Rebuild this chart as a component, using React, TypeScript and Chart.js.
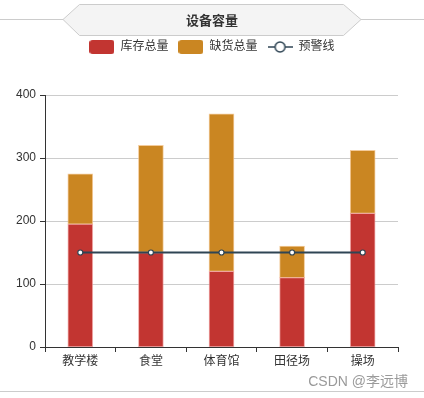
import React, { useEffect, useRef } from "react";
import { Chart, registerables } from "chart.js";

Chart.register(...registerables);

const categories = ["教学楼", "食堂", "体育馆", "田径场", "操场"];
const stockValues = [195, 150, 120, 110, 212];
const shortageValues = [80, 170, 250, 50, 100];
const warningValues = [150, 150, 150, 150, 150];
const yTicks = [0, 100, 200, 300, 400];

const FONT = "'Liberation Sans', 'Noto Sans CJK SC', sans-serif";
const RED = "#c23531";
const ORANGE = "#ca8622";
const LINE = "#2f4554";

function boxIcon(color: string) {
  const c = document.createElement("canvas");
  c.width = 25;
  c.height = 14;
  const ctx = c.getContext("2d")!;
  ctx.fillStyle = color;
  ctx.beginPath();
  (ctx as any).roundRect(0, 0, 25, 14, 3);
  ctx.fill();
  return c;
}

function lineIcon(color: string) {
  const c = document.createElement("canvas");
  c.width = 25;
  c.height = 14;
  const ctx = c.getContext("2d")!;
  ctx.strokeStyle = color;
  ctx.lineWidth = 1.5;
  ctx.beginPath();
  ctx.moveTo(0, 7);
  ctx.lineTo(25, 7);
  ctx.stroke();
  ctx.beginPath();
  ctx.arc(12.5, 7, 5, 0, Math.PI * 2);
  ctx.fillStyle = "#fff";
  ctx.fill();
  ctx.stroke();
  return c;
}

const decorPlugin = {
  id: "decor",
  beforeDraw(chart: any) {
    const ctx = chart.ctx;
    const w = chart.width;
    ctx.save();
    ctx.strokeStyle = "#ccc";
    ctx.lineWidth = 1;
    ctx.beginPath();
    ctx.moveTo(0, 19.5);
    ctx.lineTo(63, 19.5);
    ctx.moveTo(361, 19.5);
    ctx.lineTo(w, 19.5);
    ctx.stroke();
    ctx.beginPath();
    ctx.moveTo(63, 19.5);
    ctx.lineTo(79.5, 4.5);
    ctx.lineTo(343.5, 4.5);
    ctx.lineTo(361, 19.5);
    ctx.lineTo(343.5, 35.5);
    ctx.lineTo(79.5, 35.5);
    ctx.closePath();
    ctx.fillStyle = "#f4f4f4";
    ctx.fill();
    ctx.stroke();
    ctx.restore();
  },
  afterDraw(chart: any) {
    const ctx = chart.ctx;
    ctx.save();
    ctx.strokeStyle = "#ccc";
    ctx.lineWidth = 1;
    ctx.beginPath();
    ctx.moveTo(0, 391.5);
    ctx.lineTo(chart.width, 391.5);
    ctx.stroke();
    ctx.fillStyle = "#9a9a9a";
    ctx.font = `14px ${FONT}`;
    ctx.textAlign = "right";
    ctx.textBaseline = "middle";
    ctx.fillText("CSDN @李远博", 408, 382);
    ctx.restore();
  },
};

export default function App() {
  const ref = useRef<HTMLCanvasElement>(null);
  useEffect(() => {
    const icons = [boxIcon(RED), boxIcon(ORANGE), lineIcon(LINE)];
    const chart = new Chart(ref.current!, {
      type: "bar",
      data: {
        labels: categories,
        datasets: [
          {
            type: "bar",
            label: "库存总量",
            data: stockValues,
            backgroundColor: RED,
            borderColor: "rgba(235,140,140,0.7)",
            borderWidth: 1,
            borderSkipped: false,
            stack: "total",
            order: 1,
            barThickness: 25,
          },
          {
            type: "bar",
            label: "缺货总量",
            data: shortageValues,
            backgroundColor: ORANGE,
            borderColor: "rgba(240,190,130,0.8)",
            borderWidth: 1,
            borderSkipped: false,
            stack: "total",
            order: 1,
            barThickness: 25,
          },
          {
            type: "line",
            label: "预警线",
            data: warningValues,
            borderColor: LINE,
            backgroundColor: "#fff",
            borderWidth: 2,
            pointStyle: "circle",
            pointRadius: 2.5,
            pointBorderWidth: 1.2,
            pointBorderColor: LINE,
            pointBackgroundColor: "#fff",
            stack: "line",
            order: 0,
          } as any,
        ],
      },
      options: {
        responsive: false,
        animation: false,
        layout: { padding: 0 },
        plugins: {
          tooltip: { enabled: false },
          title: {
            display: true,
            text: "设备容量",
            color: "#333",
            font: { family: FONT, size: 13, weight: "bold" },
            padding: { top: 14, bottom: 1.4 },
          },
          legend: {
            display: true,
            labels: {
              usePointStyle: true,
              pointStyleWidth: 25,
              padding: 10,
              color: "#333",
              font: { family: FONT, size: 12 },
              generateLabels: (chart: any) =>
                chart.data.datasets.map((ds: any, i: number) => ({
                  text: ds.label,
                  pointStyle: icons[i],
                  datasetIndex: i,
                  fontColor: "#333",
                  lineWidth: 0,
                  hidden: false,
                })),
              sort: (a: any, b: any) => a.datasetIndex - b.datasetIndex,
            },
          },
        },
        scales: {
          xTop: {
            type: "category",
            labels: categories,
            position: "top",
            display: true,
            grid: { display: false },
            border: { display: false },
            ticks: { display: false },
            afterFit: (s: any) => {
              s.height = 32;
            },
          },
          yRight: {
            type: "linear",
            position: "right",
            display: true,
            grid: { display: false },
            border: { display: false },
            ticks: { display: false },
            afterFit: (s: any) => {
              s.width = 26;
            },
          },
          x: {
            stacked: true,
            grid: {
              display: true,
              drawOnChartArea: false,
              drawTicks: true,
              tickLength: 5,
              offset: true,
              tickColor: "#333",
            },
            border: { display: true, color: "#333" },
            ticks: {
              color: "#333",
              padding: 2,
              font: { family: FONT, size: 12 },
              maxRotation: 0,
            },
            afterFit: (s: any) => {
              s.height = 51;
            },
          },
          y: {
            stacked: true,
            min: yTicks[0],
            max: yTicks[yTicks.length - 1],
            afterBuildTicks: (s: any) => {
              s.ticks = yTicks.map((v) => ({ value: v }));
            },
            grid: {
              color: "#ccc",
              tickColor: "#333",
              tickLength: 5,
            },
            border: { display: true, color: "#333" },
            ticks: {
              color: "#333",
              padding: 4,
              font: { family: FONT, size: 12 },
            },
            afterFit: (s: any) => {
              s.width = 45;
            },
          },
        },
      },
      plugins: [decorPlugin],
    } as any);
    return () => chart.destroy();
  }, []);
  return (
    <canvas
      ref={ref}
      width={424}
      height={398}
      style={{ position: "fixed", left: 0, top: 0, display: "block" }}
    />
  );
}
